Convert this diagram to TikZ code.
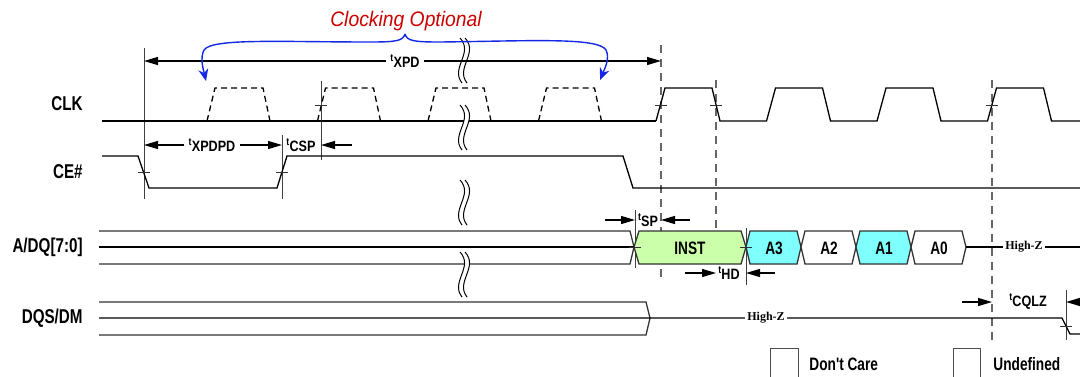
\documentclass[tikz,border=0pt]{standalone}
\usepackage{fontspec}
\usetikzlibrary{arrows.meta}
\newfontfamily\lblfont{Liberation Sans}[FakeStretch=0.76]
\newfontfamily\dimfont{Liberation Sans}[FakeStretch=0.84]
\newfontfamily\capfont{Liberation Sans}[FakeStretch=0.92]
\newfontfamily\hizfont{Liberation Serif}
\newcommand{\tpar}[1]{\textsuperscript{t}\kern-0.4pt#1}
\definecolor{instgreen}{RGB}{204,255,170}
\definecolor{addrcyan}{RGB}{128,255,255}
\definecolor{optred}{RGB}{204,0,0}
\definecolor{optblue}{RGB}{20,40,230}
\tikzset{
  sig/.style={line width=0.65pt},
  busline/.style={line width=0.65pt, draw=black!80},
  clkopt/.style={line width=0.65pt, dash pattern=on 3pt off 2pt},
  refline/.style={line width=0.5pt, draw=black!75},
  guide/.style={line width=0.65pt, draw=black!60, dash pattern=on 4pt off 3pt},
  tickmark/.style={line width=0.5pt, draw=black!80},
  dim/.style={line width=0.6pt, -{Triangle[length=7pt,width=4pt]}},
  optarc/.style={line width=0.7pt, draw=optblue, -{Stealth[length=6pt,width=5pt]}},
  signame/.style={anchor=east, inner sep=0pt, font={\fontsize{10}{12}\lblfont\bfseries}},
  dimlbl/.style={inner sep=2pt, font={\fontsize{7.5}{9}\dimfont\bfseries}},
  cell/.style={line width=0.65pt, draw=black!80},
  celltext/.style={inner sep=0pt, font={\fontsize{9}{11}\lblfont\bfseries}},
  hiz/.style={fill=white, inner sep=1pt, font={\fontsize{6}{7}\hizfont\bfseries}},
  legbox/.style={line width=0.5pt, draw=black!70},
  legtext/.style={anchor=west, inner sep=0pt, font={\fontsize{9}{11}\lblfont\bfseries}},
  brk/.pic={
    \fill[white] (-1,0) .. controls (-13,15) and (11,30) .. (-3,45) -- (2,45) .. controls (16,30) and (-8,15) .. (4,0) -- cycle;
    \draw[line width=0.5pt] (-1,0) .. controls (-13,15) and (11,30) .. (-3,45);
    \draw[line width=0.5pt] (4,0) .. controls (-8,15) and (16,30) .. (2,45);
  }
}
\begin{document}
\begin{tikzpicture}[x=0.5pt,y=0.5pt,yscale=-1,xscale=1]
\useasboundingbox (0,0) rectangle (1080,376);
\clip (0,0) rectangle (1080,376);

% Signal names
\node[signame] (clk) at (83,104) {CLK};
\node[signame] (ce) at (83,172) {CE\#};
\node[signame] (adq) at (83,247) {A/DQ[7:0]};
\node[signame] (dqs) at (83,318) {DQS/DM};

% Dashed guide lines
\draw[guide] (661,45) -- (661,282);
\draw[guide] (716,80) -- (716,232);
\draw[guide] (992,80) -- (992,342);

% Reference lines
\draw[refline] (144,48) -- (144,199);
\draw[refline] (282,135) -- (282,199);
\draw[refline] (321,81) -- (321,160);
\draw[refline] (635,210) -- (635,268);
\draw[refline] (746,228) -- (746,285);
\draw[refline] (1066,290) -- (1066,340);

% CLK: optional clock pulses
\draw[sig] (102,121) -- (656,121);
\draw[clkopt] (207,121) -- (215,88) -- (263,88) -- (270,121);
\draw[clkopt] (317.5,121) -- (325.5,88) -- (373.5,88) -- (380.5,121);
\draw[clkopt] (428,121) -- (436,88) -- (484,88) -- (491,121);
\draw[clkopt] (538.5,121) -- (546.5,88) -- (594.5,88) -- (601.5,121);
% CLK: running clock
\draw[sig] (656,121) -- (665,88) -- (712,88) -- (720,121) -- (766.5,121) -- (775.5,88) -- (822.5,88) -- (830.5,121)
  -- (877,121) -- (886,88) -- (933,88) -- (941,121) -- (987.5,121) -- (996.5,88) -- (1043.5,88) -- (1051.5,121) -- (1080,121);

% CE#
\draw[sig] (102,156) -- (138,156) -- (149,188) -- (277,188) -- (287,156) -- (623,156) -- (633,188) -- (1080,188);

% A/DQ[7:0]
\draw[busline] (99,231) -- (630,231) -- (634,247) -- (630,264) -- (99,264);
\draw[sig] (99,247) -- (634,247);
\draw[cell, fill=instgreen] (634,247) -- (639,231) -- (741,231) -- (746,247) -- (741,264) -- (639,264) -- cycle;
\draw[cell, fill=addrcyan] (746,247) -- (750,231) -- (797,231) -- (801,247) -- (797,264) -- (750,264) -- cycle;
\draw[cell, fill=white] (801,247) -- (805,231) -- (852,231) -- (856,247) -- (852,264) -- (805,264) -- cycle;
\draw[cell, fill=addrcyan] (856,247) -- (860,231) -- (907,231) -- (911,247) -- (907,264) -- (860,264) -- cycle;
\draw[cell, fill=white] (911,247) -- (915,231) -- (962,231) -- (966,247) -- (962,264) -- (915,264) -- cycle;
\node[celltext] (inst) at (690,248) {INST};
\node[celltext] (a3) at (774,248) {A3};
\node[celltext] (a2) at (829,248) {A2};
\node[celltext] (a1) at (884,248) {A1};
\node[celltext] (a0) at (939,248) {A0};
\draw[sig] (966,247) -- (1080,247);
\node[hiz] (hizA) at (1024,247) {High-Z};

% DQS/DM
\draw[busline] (99,302) -- (646,302) -- (650,318) -- (646,335) -- (99,335);
\draw[sig] (99,318) -- (1062,318) -- (1070,334) -- (1080,334);
\node[hiz] (hizB) at (766,318) {High-Z};

% Edge ticks
\draw[tickmark] (655,105) -- (667,105);
\draw[tickmark] (710,105) -- (722,105);
\draw[tickmark] (986,105) -- (998,105);
\draw[tickmark] (315,105) -- (327,105);
\draw[tickmark] (138,172) -- (150,172);
\draw[tickmark] (276,172) -- (288,172);
\draw[tickmark] (629,247) -- (641,247);
\draw[tickmark] (740,247) -- (752,247);
\draw[tickmark] (1060,326) -- (1072,326);

% Time breaks
\pic at (463,83) {brk};
\pic at (463,150) {brk};
\pic at (463,225) {brk};
\pic at (463,297) {brk};

% tXPD
\node[dimlbl] (tXPD) at (405,61) {\tpar{XPD}};
\coordinate (xpdL) at (144,61);
\coordinate (xpdR) at (661,61);
\draw[dim] (tXPD.west) -- (xpdL);
\draw[dim] (tXPD.east) -- (xpdR);

% tXPDPD
\node[dimlbl] (tXPDPD) at (212,145) {\tpar{XPDPD}};
\coordinate (xpdpdL) at (144,145);
\coordinate (xpdpdR) at (282,145);
\draw[dim] (tXPDPD.west) -- (xpdpdL);
\draw[dim] (tXPDPD.east) -- (xpdpdR);

% tCSP
\node[dimlbl] (tCSP) at (301,145) {\tpar{CSP}};
\coordinate (cspR) at (352,145);
\coordinate (cspE) at (321,145);
\draw[dim] (cspR) -- (cspE);

% tSP
\node[dimlbl] (tSP) at (648,220) {\tpar{SP}};
\coordinate (spA) at (605,220);
\coordinate (spB) at (635,220);
\coordinate (spC) at (690,220);
\coordinate (spD) at (661,220);
\draw[dim] (spA) -- (spB);
\draw[dim] (spC) -- (spD);

% tHD
\node[dimlbl] (tHD) at (729,273) {\tpar{HD}};
\coordinate (hdA) at (685,273);
\coordinate (hdB) at (716,273);
\coordinate (hdC) at (775,273);
\coordinate (hdD) at (746,273);
\draw[dim] (hdA) -- (hdB);
\draw[dim] (hdC) -- (hdD);

% tCQLZ
\node[dimlbl] (tCQLZ) at (1028,302) {\tpar{CQLZ}};
\coordinate (cqA) at (962,302);
\coordinate (cqB) at (992,302);
\coordinate (cqC) at (1090,302);
\coordinate (cqD) at (1066,302);
\draw[dim] (cqA) -- (cqB);
\draw[dim] (cqC) -- (cqD);

% Clocking optional
\node[text=optred, inner sep=0pt, font={\fontsize{10.5}{12}\capfont\itshape}] (optcap) at (406,21) {Clocking Optional};
\draw[optarc] (405,34) .. controls (407,41) and (414,42) .. (440,42) .. controls (530,41) and (598,37) .. (606,50) .. controls (610,58) and (605,68) .. (600,80);
\draw[optarc] (405,34) .. controls (403,41) and (396,42) .. (370,42) .. controls (280,42) and (212,38) .. (204,50) .. controls (200,58) and (203,68) .. (206,81);

% Legend
\draw[legbox] (770,348) rectangle (798,382);
\node[legtext] (dontcare) at (809,364) {Don't Care};
\draw[legbox] (953,348) rectangle (980,382);
\node[legtext] (undef) at (993,364) {Undefined};
\end{tikzpicture}
\end{document}
